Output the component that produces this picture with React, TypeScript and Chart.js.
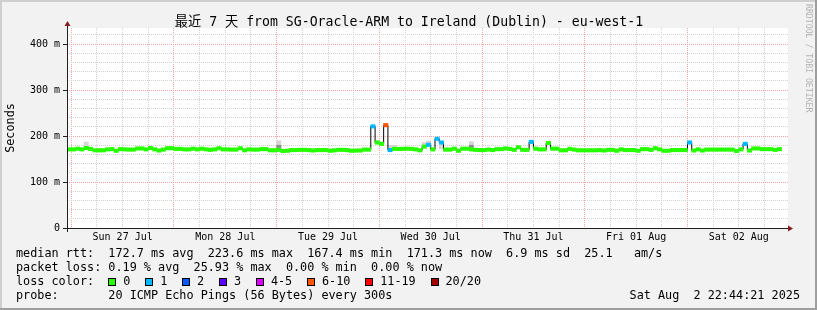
import React, { useEffect, useRef } from 'react';
import { Chart, registerables } from 'chart.js';

Chart.register(...registerables);

const MONO = "'DejaVu Sans Mono', 'Noto Sans CJK SC', monospace";

const TITLE = '最近 7 天 from SG-Oracle-ARM to Ireland (Dublin) - eu-west-1';
const Y_TITLE = 'Seconds';

const dayLabels = ['Sun 27 Jul', 'Mon 28 Jul', 'Tue 29 Jul', 'Wed 30 Jul', 'Thu 31 Jul', 'Fri 01 Aug', 'Sat 02 Aug'];
const dayLabelHours = [12, 36, 60, 84, 108, 132, 156];
const gridHours = [0, 6, 12, 18, 24, 30, 36, 42, 48, 54, 60, 66, 72, 78, 84, 90, 96, 102, 108, 114, 120, 126, 132, 138, 144, 150, 156, 162];
const yTicks = [0, 20, 40, 60, 80, 100, 120, 140, 160, 180, 200, 220, 240, 260, 280, 300, 320, 340, 360, 380, 400, 420];
const yLabelValues = [0, 100, 200, 300, 400];
const xMin = -1;
const xMax = 167.5;
const yMax = 435;

// median RTT (ms), one value per hour starting at hour -1 (relative to Sun 27 Jul 00:00)
const startHour = -1;
const medianRtt = [
  171, 171, 172.5, 171, 174, 172, 169, 169, 169, 171, 171.5, 168, 171.5, 171, 170.5, 170.5, 173, 173, 171, 174, 171, 168.5, 170.5, 173.5, 173.5,
  172, 172, 171, 171, 172.5, 171, 172.5, 171, 170, 171, 173.5, 171, 171, 170.5, 170.5, 173.5, 169, 171, 170.5, 170.5, 171.5, 171.5, 169, 169,
  170, 167.4, 168, 169.5, 169.5, 170, 170, 169.5, 168.5, 169.5, 169.5, 169.5, 168, 169, 170, 170, 169.5, 168, 168.5, 168.5, 170.5, 170.5, 221, 186,
  183, 223.6, 169.5, 172, 172, 172, 172.5, 172, 171, 169, 177, 181, 171, 194, 186, 170.5, 170.5, 172.5, 168, 172.5, 172.5, 171, 170, 169.5,
  169.5, 170.5, 169.5, 171.5, 171.5, 173, 172, 170, 175.5, 170, 170, 187.3, 172.5, 171, 171, 185, 172.5, 172.5, 169, 169, 172, 170.5, 169, 169,
  169, 169, 169, 169.5, 168.5, 170, 170, 168, 171, 169.5, 169.5, 169.5, 168, 171.5, 171.5, 170, 173.5, 171, 168, 168, 169.5, 169.5, 169.5, 169.5,
  186, 168.5, 171, 168.5, 170.5, 170.5, 170.5, 170.5, 170.5, 170.5, 170.5, 167.5, 171, 183, 168.5, 173, 173, 171.5, 171.5, 171.5, 170, 171.5,
];

// hours with packet loss (index into lossLabels); all other hours are 0 loss
const lossHours = [70, 73, 74, 83, 85, 86, 107, 144, 157];
const lossLevels = [1, 5, 1, 1, 1, 1, 1, 1, 1];
const lossLabels = ['0', '1', '2', '3', '4-5', '6-10', '11-19', '20/20'];
const lossColors = ['#26ff00', '#00b8ff', '#0059ff', '#5e00ff', '#dd00ff', '#ff5500', '#ff0000', '#a10000'];

// smoke (ping spread) where visible, in ms
const smokeLightHour = [3, 48, 71, 73, 74, 75, 82, 83, 86, 93];
const smokeLightLow = [176, 180, 183, 224, 172, 172, 178, 182, 172, 180];
const smokeLightHigh = [187, 190, 190, 228, 180, 180, 186, 189, 183, 188];
const smokeDarkHour = [48, 93];
const smokeDarkLow = [172, 172];
const smokeDarkHigh = [180, 180];

const rttStats = ['172.7', '223.6', '167.4', '171.3', '6.9', '25.1'];
const lossStats = ['0.19', '25.93', '0.00', '0.00'];
const probeText = '20 ICMP Echo Pings (56 Bytes) every 300s';
const dateText = 'Sat Aug  2 22:44:21 2025';
const watermark = 'RRDTOOL / TOBI OETIKER';

const GRID = '#d2d2d2';
const MGRID = '#f4a4a4';
const AXIS = '#1f1f1f';
const ARROW = '#801f1f';

export default function App() {
  const ref = useRef<HTMLCanvasElement>(null);

  useEffect(() => {
    const canvas = ref.current;
    if (!canvas) return;
    const hours = medianRtt.map((_, i) => startHour + i);
    const lossOf = (h: number) => {
      const k = lossHours.indexOf(h);
      return k < 0 ? 0 : lossLevels[k];
    };
    const half = 3.7;

    const frame = {
      id: 'frame',
      beforeDraw(chart: any) {
        const { ctx, chartArea } = chart;
        ctx.save();
        ctx.fillStyle = '#ffffff';
        ctx.fillRect(chartArea.left + 1, chartArea.top, chartArea.right - chartArea.left - 1, chartArea.bottom - chartArea.top);
        ctx.restore();
      },
      afterDraw(chart: any) {
        const { ctx, chartArea } = chart;
        const { left, right, top, bottom } = chartArea;
        ctx.save();
        ctx.strokeStyle = AXIS;
        ctx.lineWidth = 1;
        ctx.beginPath();
        ctx.moveTo(left - 4, bottom + 0.5);
        ctx.lineTo(right + 1, bottom + 0.5);
        ctx.moveTo(left + 0.5, bottom + 4);
        ctx.lineTo(left + 0.5, top - 3);
        ctx.stroke();
        ctx.fillStyle = ARROW;
        ctx.beginPath();
        ctx.moveTo(left + 0.5 - 3, top - 2);
        ctx.lineTo(left + 0.5 + 3, top - 2);
        ctx.lineTo(left + 0.5, top - 7);
        ctx.closePath();
        ctx.fill();
        ctx.beginPath();
        ctx.moveTo(right, bottom + 0.5 - 3);
        ctx.lineTo(right, bottom + 0.5 + 3);
        ctx.lineTo(right + 5, bottom + 0.5);
        ctx.closePath();
        ctx.fill();
        ctx.restore();
      },
    };

    const barCommon = {
      type: 'bar' as const,
      grouped: false,
      barPercentage: 1,
      categoryPercentage: 1,
      borderWidth: 0,
    };

    const chart = new Chart(canvas, {
      type: 'bar',
      data: {
        datasets: [
          {
            ...barCommon,
            label: 'smoke',
            data: smokeLightHour.map((h, i) => ({ x: h + 0.5, y: [smokeLightLow[i], smokeLightHigh[i]] })) as any,
            backgroundColor: '#d6d6d6',
            order: 5,
          },
          {
            ...barCommon,
            label: 'smoke dark',
            data: smokeDarkHour.map((h, i) => ({ x: h + 0.5, y: [smokeDarkLow[i], smokeDarkHigh[i]] })) as any,
            backgroundColor: '#8e8e8e',
            order: 4,
          },
          {
            type: 'line',
            label: 'median line',
            data: hours.map((h, i) => ({ x: h + 0.5, y: medianRtt[i] })) as any,
            borderColor: '#000000',
            borderWidth: 1,
            stepped: 'middle',
            pointRadius: 0,
            order: 3,
          } as any,
          {
            ...barCommon,
            label: 'median rtt',
            data: hours.map((h, i) => ({ x: h + 0.5, y: [medianRtt[i] - half, medianRtt[i] + half] })) as any,
            backgroundColor: hours.map((h) => lossColors[lossOf(h)]),
            order: 2,
          },
        ],
      },
      options: {
        responsive: false,
        animation: false,
        devicePixelRatio: 1,
        events: [],
        layout: { padding: { left: 0, top: 28, right: 29, bottom: 0 } },
        plugins: {
          legend: { display: false },
          tooltip: { enabled: false },
          title: { display: false },
        },
        scales: {
          x: {
            type: 'linear',
            min: xMin,
            max: xMax,
            offset: false,
            afterBuildTicks: (s: any) => {
              s.ticks = gridHours.map((v) => ({ value: v }));
            },
            afterFit: (s: any) => {
              s.height = 82;
            },
            ticks: {
              autoSkip: false,
              maxRotation: 0,
              minRotation: 0,
              padding: 3,
              color: '#000000',
              font: { family: MONO, size: 10 },
              callback: (v: any) => {
                const k = dayLabelHours.indexOf(Number(v));
                return k < 0 ? '' : dayLabels[k];
              },
            },
            grid: {
              offset: false,
              drawTicks: false,
              lineWidth: 1,
              color: (c: any) => (c.tick && c.tick.value % 24 === 0 ? MGRID : GRID),
            },
            border: { display: false, dash: [1, 1] },
          },
          y: {
            type: 'linear',
            min: 0,
            max: yMax,
            afterBuildTicks: (s: any) => {
              s.ticks = yTicks.map((v) => ({ value: v }));
            },
            afterFit: (s: any) => {
              s.width = 67;
            },
            ticks: {
              autoSkip: false,
              padding: 3,
              color: '#000000',
              font: { family: MONO, size: 10 },
              callback: (v: any) => {
                const n = Number(v);
                if (!yLabelValues.includes(n)) return '';
                return n === 0 ? '0' : `${n} m`;
              },
            },
            grid: {
              lineWidth: 1,
              tickLength: 4,
              color: (c: any) => (c.tick && c.tick.value % 100 === 0 ? MGRID : GRID),
              tickColor: (c: any) => (c.tick && c.tick.value % 100 === 0 ? AXIS : 'rgba(0,0,0,0)'),
            },
            border: { display: false, dash: [1, 1] },
            title: {
              display: true,
              text: Y_TITLE,
              color: '#000000',
              font: { family: MONO, size: 11.8 },
              padding: { top: 4, bottom: 0 },
            },
          },
        },
      } as any,
      plugins: [frame],
    });
    return () => chart.destroy();
  }, []);

  const charW = 7.1;
  const textLeft = 16;
  const line = (i: number) => 246 + 14 * i;
  const textStyle: React.CSSProperties = {
    position: 'absolute',
    fontFamily: MONO,
    fontSize: '11.8px',
    lineHeight: '14px',
    whiteSpace: 'pre',
    color: '#000',
  };

  const rttLine = `median rtt:  ${rttStats[0]} ms avg  ${rttStats[1]} ms max  ${rttStats[2]} ms min  ${rttStats[3]} ms now  ${rttStats[4]} ms sd  ${rttStats[5]}   am/s`;
  const lossLine = `packet loss: ${lossStats[0]} % avg  ${lossStats[1]} % max  ${lossStats[2]} % min  ${lossStats[3]} % now`;

  const legendItems: { sq: number; lx: number; label: string; color: string }[] = [];
  let x = textLeft + 13 * charW;
  lossLabels.forEach((label, i) => {
    legendItems.push({ sq: x, lx: x + 15, label, color: lossColors[i] });
    x = x + 15 + label.length * charW + 14.8;
  });

  return (
    <>
      <style>{`body{margin:0}`}</style>
      <div style={{ position: 'relative', width: 817, height: 310, background: '#f2f2f2', overflow: 'hidden' }}>
        <canvas ref={ref} width={817} height={310} style={{ position: 'absolute', left: 0, top: 0, width: 817, height: 310 }} />
        <div style={{ position: 'absolute', left: 0, top: 0, width: 817, height: 2, background: '#cfcfcf' }} />
        <div style={{ position: 'absolute', left: 0, top: 0, width: 2, height: 310, background: '#cfcfcf' }} />
        <div style={{ position: 'absolute', left: 0, top: 308, width: 817, height: 2, background: '#9e9e9e' }} />
        <div style={{ position: 'absolute', left: 815, top: 0, width: 2, height: 310, background: '#9e9e9e' }} />
        <div
          style={{
            position: 'absolute',
            left: 0,
            top: 13.5,
            width: 818,
            textAlign: 'center',
            fontFamily: MONO,
            fontSize: '13.2px',
            lineHeight: '15px',
            whiteSpace: 'pre',
            color: '#000',
          }}
        >
          {TITLE}
        </div>
        <div
          style={{
            position: 'absolute',
            left: 803.5,
            top: 4,
            writingMode: 'vertical-rl',
            fontFamily: MONO,
            fontSize: '8.2px',
            lineHeight: '9px',
            whiteSpace: 'pre',
            color: '#b4b4b4',
          }}
        >
          {watermark}
        </div>
        <div style={{ ...textStyle, left: textLeft, top: line(0) }}>{rttLine}</div>
        <div style={{ ...textStyle, left: textLeft, top: line(1) }}>{lossLine}</div>
        <div style={{ ...textStyle, left: textLeft, top: line(2) }}>{'loss color:'}</div>
        {legendItems.map((it) => (
          <React.Fragment key={it.label}>
            <div
              style={{
                position: 'absolute',
                left: Math.round(it.sq),
                top: 278,
                width: 8,
                height: 8,
                boxSizing: 'border-box',
                border: '1px solid #000',
                background: it.color,
              }}
            />
            <div style={{ ...textStyle, left: it.lx, top: line(2) }}>{it.label}</div>
          </React.Fragment>
        ))}
        <div style={{ ...textStyle, left: textLeft, top: line(3) }}>{`probe:       ${probeText}`}</div>
        <div style={{ ...textStyle, right: 17, top: line(3) }}>{dateText}</div>
      </div>
    </>
  );
}
